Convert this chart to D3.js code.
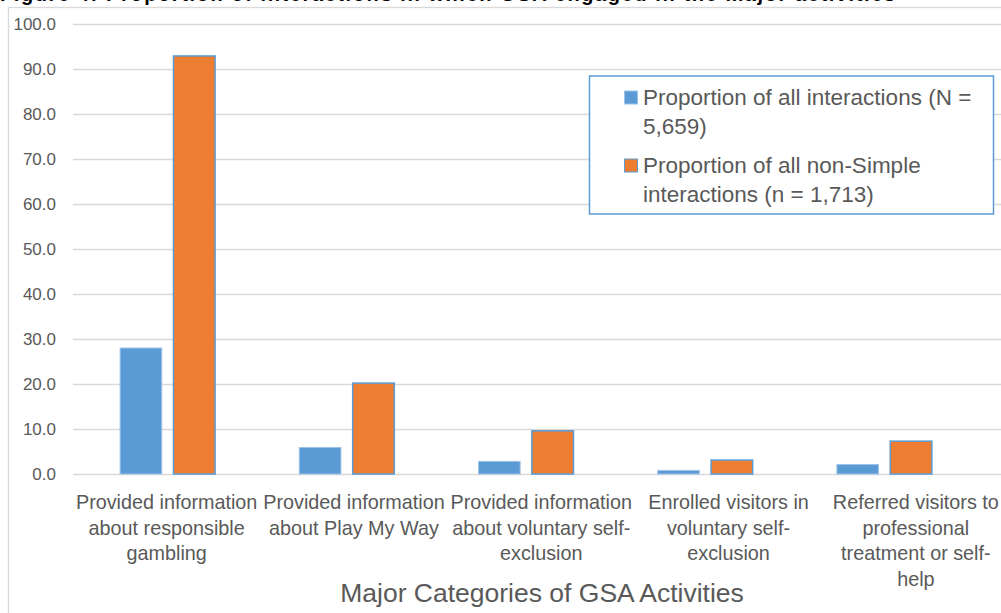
<!DOCTYPE html>
<html>
<head>
<meta charset="utf-8">
<script src="https://cdn.jsdelivr.net/npm/d3@7"></script>
<style>
  html, body { margin: 0; padding: 0; background: #fff; overflow: hidden; }
  svg { display: block; }
  text { font-family: "Liberation Sans", Arial, sans-serif; }
</style>
</head>
<body>
<svg id="chart" width="1001" height="613"></svg>
<script>
// Category labels, one entry per wrapped line
const categories = [
  "Provided information about responsible gambling",
  "Provided information about Play My Way",
  "Provided information about voluntary self-exclusion",
  "Enrolled visitors in voluntary self-exclusion",
  "Referred visitors to professional treatment or self-help"
];
const categoryLines = [
  ["Provided information", "about responsible", "gambling"],
  ["Provided information", "about Play My Way"],
  ["Provided information", "about voluntary self-", "exclusion"],
  ["Enrolled visitors in", "voluntary self-", "exclusion"],
  ["Referred visitors to", "professional", "treatment or self-", "help"]
];
const seriesNames = [
  "Proportion of all interactions (N = 5,659)",
  "Proportion of all non-Simple interactions (n = 1,713)"
];
const legendLines = [
  ["Proportion of all interactions (N =", "5,659)"],
  ["Proportion of all non-Simple", "interactions (n = 1,713)"]
];
const allInteractions = [28.0, 5.9, 2.8, 0.8, 2.1];
const nonSimpleInteractions = [92.9, 20.2, 9.6, 3.1, 7.3];
const yTicks = [0, 10, 20, 30, 40, 50, 60, 70, 80, 90, 100];
const titleText = "Figure 4: Proportion of interactions in which GSA engaged in the major activities";
const axisTitle = "Major Categories of GSA Activities";

const colors = ["#5b9bd5", "#ed7d31"];
const strokes = ["#9dc3e6", "#5b9bd5"];
const textColor = "#595959";

const svg = d3.select("#chart");

// Title line running along the top edge
svg.append("text")
  .attr("x", 0).attr("y", 0.5)
  .attr("font-size", 20).attr("font-weight", "bold")
  .attr("fill", "#000")
  .attr("textLength", 895).attr("lengthAdjust", "spacing")
  .text(titleText);

// Chart frame
svg.append("rect")
  .attr("x", 8.5).attr("y", 7.5)
  .attr("width", 1010).attr("height", 620)
  .attr("fill", "#fff").attr("stroke", "#d9d9d9").attr("stroke-width", 1.3);

const plotLeft = 73, plotRight = 1001;
const y = d3.scaleLinear().domain([0, 100]).range([474, 24]);

// Bars and category labels
const xBars = d3.scaleBand().domain(categories).range([78, 974]).paddingInner(0.47).paddingOuter(0.235);
const xSeries = d3.scaleBand().domain([0, 1]).range([0, xBars.bandwidth()]).paddingInner(0.22);
const xLabels = d3.scaleBand().domain(categories).range([73, 1009.5]);

// Gridlines
const yAxis = d3.axisLeft(y).tickValues(yTicks).tickFormat(d3.format(".1f"))
  .tickSize(-(plotRight - plotLeft)).tickPadding(17);
const gy = svg.append("g").attr("transform", `translate(${plotLeft},0)`).call(yAxis);
gy.select(".domain").remove();
gy.selectAll(".tick line").attr("stroke", "#d9d9d9").attr("stroke-width", 1.5);
gy.selectAll(".tick text")
  .attr("fill", textColor).attr("font-size", 17)
  .attr("font-family", "'Liberation Sans', Arial, sans-serif");

const series = [allInteractions, nonSimpleInteractions];
series.forEach((vals, si) => {
  svg.append("g").selectAll("rect")
    .data(vals)
    .join("rect")
    .attr("x", (d, i) => xBars(categories[i]) + xSeries(si))
    .attr("y", d => y(d))
    .attr("width", xSeries.bandwidth())
    .attr("height", d => y(0) - y(d))
    .attr("fill", colors[si])
    .attr("stroke", strokes[si])
    .attr("stroke-width", si === 0 ? 1 : 1.5);
});

// Category labels
const gx = svg.append("g");
categoryLines.forEach((lines, i) => {
  const cx = xLabels(categories[i]) + xLabels.bandwidth() / 2;
  const t = gx.append("text")
    .attr("x", cx)
    .attr("y", 509)
    .attr("text-anchor", "middle")
    .attr("fill", textColor)
    .attr("font-size", 19.8);
  lines.forEach((ln, j) => {
    t.append("tspan")
      .attr("x", cx)
      .attr("dy", j === 0 ? 0 : 25.5)
      .text(ln);
  });
});

// Axis title
svg.append("text")
  .attr("x", 542).attr("y", 602)
  .attr("text-anchor", "middle")
  .attr("fill", textColor)
  .attr("font-size", 26.5)
  .text(axisTitle);

// Legend
const lg = svg.append("g");
lg.append("rect")
  .attr("x", 589.5).attr("y", 76)
  .attr("width", 404).attr("height", 138)
  .attr("fill", "#fff").attr("stroke", "#5b9bd5").attr("stroke-width", 1.5);
seriesNames.forEach((name, si) => {
  const top = 91 + si * 68;
  lg.append("rect")
    .attr("x", 624.5).attr("y", top)
    .attr("width", 13).attr("height", 13)
    .attr("fill", colors[si])
    .attr("stroke", strokes[si]).attr("stroke-width", 1);
  const t = lg.append("text")
    .attr("x", 643).attr("y", top + 14)
    .attr("fill", textColor)
    .attr("font-size", 22.5);
  legendLines[si].forEach((ln, j) => {
    t.append("tspan").attr("x", 643).attr("dy", j === 0 ? 0 : 29).text(ln);
  });
});
</script>
</body>
</html>
